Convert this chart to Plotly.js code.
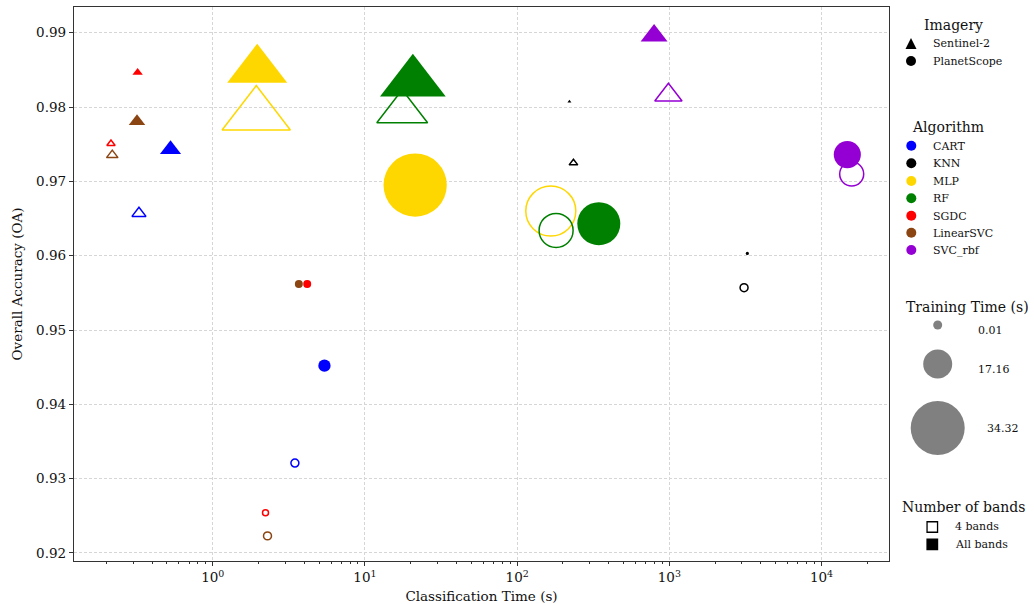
<!DOCTYPE html>
<html><head><meta charset="utf-8">
<script src="https://cdn.plot.ly/plotly-3.0.1.min.js"></script>
<style>html,body{margin:0;padding:0;background:#fff;} #chart{width:1034px;height:604px;}</style>
</head><body><div id="chart"></div>
<script>
const algorithms = ['CART','KNN','MLP','RF','SGDC','LinearSVC','SVC_rbf'];
const algoColors = ['#0000ff','#000000','#ffd700','#008000','#ff0000','#8b4513','#9400d3'];

// Sentinel-2, all bands: classification time (s), overall accuracy, training time (s)
const s2AllTime  = [0.528, 220.6, 1.96, 20.65, 0.321, 0.318, 794];
const s2AllOA    = [0.9746, 0.9808, 0.9859, 0.9843, 0.9848, 0.9783, 0.9900];
const s2AllTrain = [2.41, 0.01, 20.0, 24.0, 0.53, 1.44, 3.97];
// Sentinel-2, 4 bands
const s24Time  = [0.3276, 234.4, 1.931, 17.57, 0.2145, 0.2187, 986];
const s24OA    = [0.9659, 0.9726, 0.9799, 0.9801, 0.9752, 0.9737, 0.9820];
const s24Train = [1.02, 0.34, 25.9, 14.3, 0.31, 0.66, 4.08];
// PlanetScope, all bands
const psAllTime  = [5.42, 3255, 21.38, 344, 4.176, 3.68, 14770];
const psAllOA    = [0.9452, 0.9603, 0.9695, 0.9643, 0.9562, 0.9562, 0.9736];
const psAllTrain = [1.22, 0.01, 34.32, 15.8, 0.47, 0.47, 6.24];
// PlanetScope, 4 bands
const ps4Time  = [3.467, 3097, 166.4, 180.3, 2.222, 2.29, 15780];
const ps4OA    = [0.9321, 0.9557, 0.9660, 0.9634, 0.9254, 0.9223, 0.9710];
const ps4Train = [0.47, 0.47, 21.4, 9.85, 0.23, 0.47, 4.87];

const xTickVals = [1, 10, 100, 1000, 10000];
const xTickText = ['10<sup>0</sup>','10<sup>1</sup>','10<sup>2</sup>','10<sup>3</sup>','10<sup>4</sup>'];
const yTickVals = [0.92, 0.93, 0.94, 0.95, 0.96, 0.97, 0.98, 0.99];
const legendTrainTimes = ['0.01', '17.16', '34.32'];
const imageryNames = ['Sentinel-2', 'PlanetScope'];
const bandNames = ['4 bands', 'All bands'];

const FONT = 'DejaVu Serif';
const diam = t => Math.sqrt(9 + 116.5 * t);

function makeTrace(xs, ys, train, tri, filled) {
  const d = train.map(diam);
  const sizes = tri ? d.map(v => v * 1.075) : d;
  const marker = {
    color: algoColors,
    opacity: 1,
    size: sizes,
    symbol: (tri ? 'triangle-up' : 'circle') + (filled ? '' : '-open'),
    line: {width: filled ? 0 : 1.5, color: algoColors}
  };
  if (tri) marker.standoff = sizes.map(s => s / 8);
  return {type: 'scatter', mode: 'markers', x: xs, y: ys, marker: marker,
          text: algorithms, hoverinfo: 'text+x+y', showlegend: false, cliponaxis: false};
}

const traces = [
  makeTrace(s24Time, s24OA, s24Train, true, false),
  makeTrace(ps4Time, ps4OA, ps4Train, false, false),
  makeTrace(s2AllTime, s2AllOA, s2AllTrain, true, true),
  makeTrace(psAllTime, psAllOA, psAllTrain, false, true)
];

const minorVals = [];
for (let e = -1; e <= 4; e++) for (let m = 2; m <= 9; m++) minorVals.push(m * Math.pow(10, e));

// legend layout helpers (pixel -> paper)
const L = 74, R = 889, T = 7, B = 561;
const px = p => (p - L) / (R - L);
const py = p => (B - p) / (B - T);
const shapes = [];
const annotations = [];
function circ(cx, cy, d, color) {
  shapes.push({type: 'circle', xref: 'paper', yref: 'paper', x0: px(cx - d/2), x1: px(cx + d/2),
    y0: py(cy + d/2), y1: py(cy - d/2), fillcolor: color, line: {width: 0}});
}
function tri(cx, cy, w, color) {
  shapes.push({type: 'path', xref: 'paper', yref: 'paper',
    path: `M ${px(cx - w/2)},${py(cy + w/2)} L ${px(cx + w/2)},${py(cy + w/2)} L ${px(cx)},${py(cy - w/2)} Z`,
    fillcolor: color, line: {width: 0}});
}
function sq(cx, cy, w, filled) {
  shapes.push({type: 'rect', xref: 'paper', yref: 'paper', x0: px(cx - w/2), x1: px(cx + w/2),
    y0: py(cy + w/2), y1: py(cy - w/2), fillcolor: filled ? '#000' : '#fff', line: {width: 1.3, color: '#000'}});
}
function txt(text, x, y, size, anchor) {
  annotations.push({text: text, xref: 'paper', yref: 'paper', x: px(x), y: py(y), showarrow: false,
    xanchor: anchor, yanchor: 'middle', font: {family: FONT, size: size, color: '#111'}});
}

// Imagery legend
txt('Imagery', 953.3, 25, 14, 'center');
tri(911, 43.5, 11, '#000'); txt(imageryNames[0], 931.5, 44, 11, 'left');
circ(911, 61, 10, '#000'); txt(imageryNames[1], 931.5, 61.5, 11, 'left');
// Algorithm legend
txt('Algorithm', 948.3, 127, 14, 'center');
const algY = [145.7, 163.3, 181, 198.3, 215.7, 232.7, 250];
algorithms.forEach((a, i) => { circ(911.3, algY[i], 10, algoColors[i]); txt(a, 931.5, algY[i] + 0.5, 11, 'left'); });
// Training time legend
txt('Training Time (s)', 967.3, 306.7, 14, 'center');
const trY = [325, 364, 428], trD = [9, 29, 54], trTY = [330, 369, 428], trTX = [976.2, 976.2, 984.8];
legendTrainTimes.forEach((t, i) => { circ(937.7, trY[i], trD[i], '#808080'); txt(t, trTX[i], trTY[i], 11, 'left'); });
// Bands legend
txt('Number of bands', 964, 507.3, 14, 'center');
sq(932.3, 527, 10.5, false); txt(bandNames[0], 952.5, 526.5, 11, 'left');
sq(932.3, 544.3, 10.5, true); txt(bandNames[1], 952.5, 544, 11, 'left');

const axisCommon = {
  showline: true, linecolor: '#333', linewidth: 1.3, mirror: true,
  ticks: 'outside', ticklen: 4, tickwidth: 1, tickcolor: '#333',
  showgrid: true, gridcolor: '#d6d6d6', griddash: '3px,2px', gridwidth: 0.8,
  zeroline: false, tickfont: {family: FONT, size: 13.5, color: '#111'}
};

const layout = {
  width: 1034, height: 604,
  margin: {l: L, r: 1034 - R, t: T, b: 604 - B},
  paper_bgcolor: '#fff', plot_bgcolor: '#fff',
  font: {family: FONT},
  xaxis: Object.assign({}, axisCommon, {
    type: 'log', range: [Math.log10(0.1226), Math.log10(27750)],
    tickmode: 'array', tickvals: xTickVals, ticktext: xTickText,
    minor: {tickmode: 'array', tickvals: minorVals, ticks: 'outside', ticklen: 2, tickcolor: '#333', showgrid: false},
    title: {text: 'Classification Time (s)', font: {family: FONT, size: 13.5, color: '#111'}, standoff: 8}
  }),
  yaxis: Object.assign({}, axisCommon, {
    range: [0.91892, 0.99346], tickmode: 'array', tickvals: yTickVals, tickformat: '.2f',
    title: {text: 'Overall Accuracy (OA)', font: {family: FONT, size: 13.5, color: '#111'}, standoff: 10}
  }),
  shapes: shapes, annotations: annotations, showlegend: false
};

Plotly.newPlot('chart', traces, layout, {displayModeBar: false});
</script>
</body></html>
